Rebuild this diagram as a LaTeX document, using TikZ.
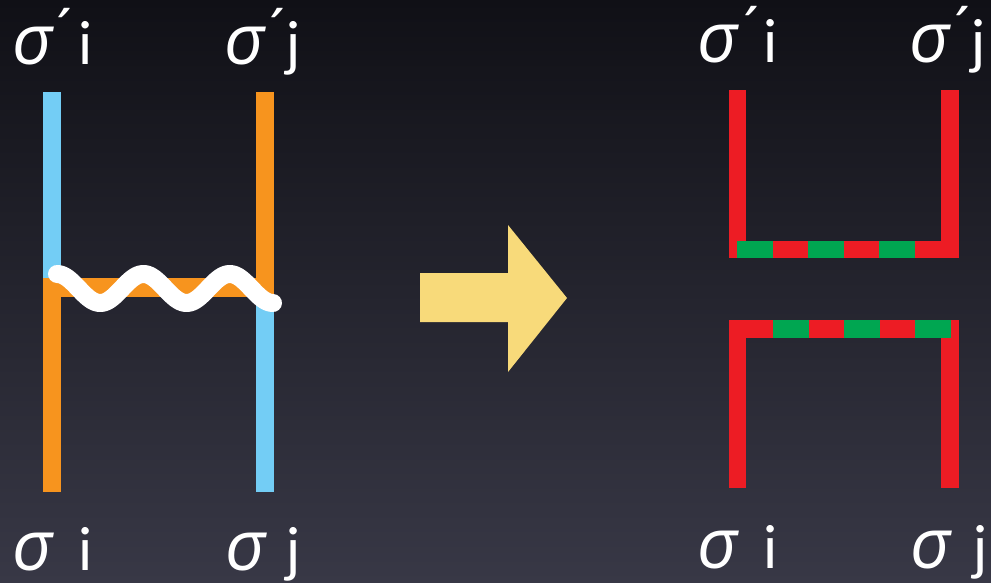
\documentclass[tikz,border=0pt]{standalone}
\usepackage{fontspec}
\newfontfamily\sigfam{Open Sans}
\newfontfamily\latfam{Lato}
\definecolor{bgtop}{RGB}{16,16,22}
\definecolor{bgbot}{RGB}{56,56,70}
\definecolor{lblue}{RGB}{115,205,245}
\definecolor{lorange}{RGB}{247,148,30}
\definecolor{lred}{RGB}{237,28,36}
\definecolor{lgreen}{RGB}{0,166,81}
\definecolor{lyellow}{RGB}{248,218,122}
\newcommand{\sg}{{\sigfam\itshape\fontsize{70}{70}\selectfont σ}}
\newcommand{\acu}[1]{\rlap{\kern#1pt\raisebox{11pt}{\sigfam ´}}}
% \lbl{acute offset or empty}{letter offset}{letter}
\newcommand{\lbl}[3]{\rlap{\sg}\ifx\relax#1\relax\else\acu{#1}\fi\hspace{#2pt}#3}
\begin{document}
\begin{tikzpicture}[x=1pt,y=-1pt,
  lab/.style={text=white, inner sep=0pt, anchor=base west,
    font=\latfam\fontsize{59}{59}\selectfont},
  wave/.style={draw=white, line width=18pt, line cap=round, line join=round}]
\useasboundingbox (0,0) rectangle (991,583);
\shade[top color=bgtop, bottom color=bgbot] (0,0) rectangle (991,583);
% left diagram
\fill[lblue] (43,92) rectangle (61,278);
\fill[lorange] (43,278) rectangle (61,492);
\fill[lorange] (43,278) rectangle (274,297);
\fill[lorange] (256,92) rectangle (274,297);
\fill[lblue] (256,297) rectangle (274,492);
\draw[wave] plot[domain=57:273, samples=120, smooth] (\x, {288.5-14.5*cos((\x-57)/43.2*180)});
% arrow
\fill[lyellow] (420,273) -- (508,273) -- (508,225) -- (567,298) -- (508,372) -- (508,322) -- (420,322) -- cycle;
% right diagram top
\fill[lred] (729,90) rectangle (746,258);
\fill[lred] (941,90) rectangle (959,258);
\fill[lred] (729,241) rectangle (959,258);
\foreach \a in {737,808,879} \fill[lgreen] (\a,241) rectangle (\a+35.5,258);
% right diagram bottom
\fill[lred] (729,320) rectangle (959,338);
\fill[lred] (729,320) rectangle (746,488);
\fill[lred] (941,320) rectangle (959,488);
\foreach \a in {773,844,915} \fill[lgreen] (\a,320) rectangle (\a+35.5,338);
% labels
\node[lab] (ti) at (12,65) {\lbl{35}{66}{i}};
\node[lab] (tj) at (224,65) {\lbl{36}{62}{j}};
\node[lab] (bi) at (12,570) {\lbl{}{66}{i}};
\node[lab] (bj) at (225,570) {\lbl{}{61}{j}};
\node[lab] (rti) at (697,63) {\lbl{37}{66}{i}};
\node[lab] (rtj) at (909,63) {\lbl{36}{62}{j}};
\node[lab] (rbi) at (697,568) {\lbl{}{66}{i}};
\node[lab] (rbj) at (910,568) {\lbl{}{63}{j}};
\end{tikzpicture}
\end{document}
